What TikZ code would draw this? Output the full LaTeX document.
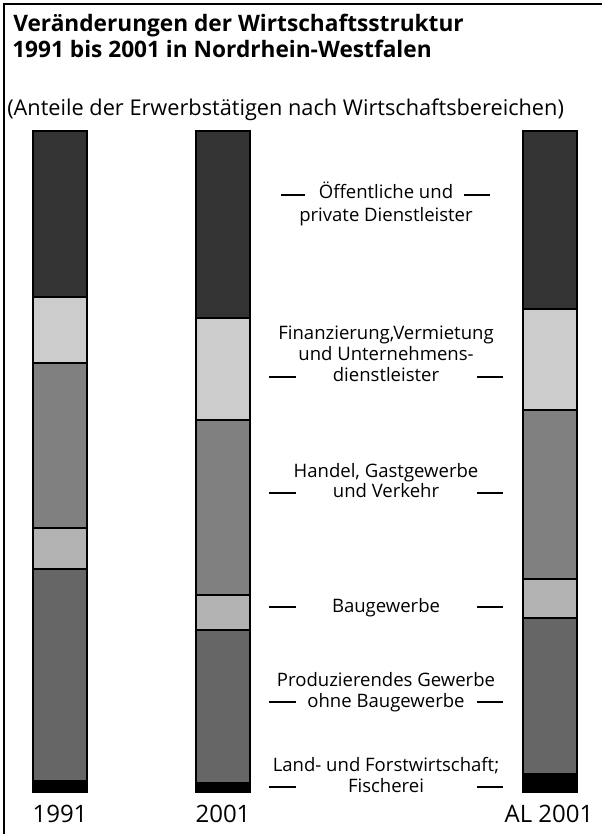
\documentclass[tikz,border=0pt]{standalone}
\usepackage{fontspec}
\setmainfont{Open Sans}
\begin{document}
\begin{tikzpicture}[x=0.75pt,y=-0.75pt,
  seg/.style={draw=black,line width=1.4pt},
  dashline/.style={draw=black,line width=1.4pt},
  lab/.style={anchor=base,inner sep=0pt,font=\fontsize{13.9pt}{16pt}\selectfont},
  yr/.style={anchor=base,inner sep=0pt,font=\fontsize{18pt}{21pt}\selectfont},
  ttl/.style={anchor=base west,inner sep=0pt,font=\bfseries\fontsize{17pt}{20pt}\selectfont},
  sub/.style={anchor=base west,inner sep=0pt,font=\fontsize{16.3pt}{19pt}\selectfont}]
\useasboundingbox (0,0) rectangle (602,834);
\definecolor{cDark}{HTML}{333333}
\definecolor{cLight}{HTML}{CCCCCC}
\definecolor{cMed}{HTML}{808080}
\definecolor{cBau}{HTML}{B3B3B3}
\definecolor{cProd}{HTML}{666666}
% frame (cut at right and bottom)
\draw[line width=1.5pt] (4,840) -- (4,4) -- (610,4);
% title
\node[ttl] (t1) at (13,32) {Veränderungen der Wirtschaftsstruktur};
\node[ttl] (t2) at (12,58) {1991 bis 2001 in Nordrhein-Westfalen};
\node[sub] (st) at (7,116) {(Anteile der Erwerbstätigen nach Wirtschaftsbereichen)};
% bar 1991
\fill[cDark]  (33,131) rectangle (87,297);
\fill[cLight] (33,297) rectangle (87,363);
\fill[cMed]   (33,363) rectangle (87,528);
\fill[cBau]   (33,528) rectangle (87,569);
\fill[cProd]  (33,569) rectangle (87,780);
\fill[black]  (33,780) rectangle (87,792);
\draw[seg] (33,131) rectangle (87,792);
\draw[seg] (33,297) -- (87,297) (33,363) -- (87,363) (33,528) -- (87,528) (33,569) -- (87,569);
% bar 2001
\fill[cDark]  (196,131) rectangle (250,318);
\fill[cLight] (196,318) rectangle (250,420);
\fill[cMed]   (196,420) rectangle (250,595);
\fill[cBau]   (196,595) rectangle (250,630);
\fill[cProd]  (196,630) rectangle (250,782);
\fill[black]  (196,782) rectangle (250,792);
\draw[seg] (196,131) rectangle (250,792);
\draw[seg] (196,318) -- (250,318) (196,420) -- (250,420) (196,595) -- (250,595) (196,630) -- (250,630);
% bar AL 2001
\fill[cDark]  (523,131) rectangle (577,309);
\fill[cLight] (523,309) rectangle (577,410);
\fill[cMed]   (523,410) rectangle (577,579);
\fill[cBau]   (523,579) rectangle (577,618);
\fill[cProd]  (523,618) rectangle (577,773);
\fill[black]  (523,773) rectangle (577,792);
\draw[seg] (523,131) rectangle (577,792);
\draw[seg] (523,309) -- (577,309) (523,410) -- (577,410) (523,579) -- (577,579) (523,618) -- (577,618);
% labels
\node[lab] (l1a) at (386,199) {Öffentliche und};
\node[lab] (l1b) at (386,221) {private Dienstleister};
\draw[dashline] (281,195) -- (305,195) (464,195) -- (490,195);
\node[lab] (l2a) at (386,339) {Finanzierung,Vermietung};
\node[lab] (l2b) at (386,360) {und Unternehmens-};
\node[lab] (l2c) at (386,381) {dienstleister};
\draw[dashline] (269,377) -- (296,377) (477,377) -- (503,377);
\node[lab] (l3a) at (386,477) {Handel, Gastgewerbe};
\node[lab] (l3b) at (386,497) {und Verkehr};
\draw[dashline] (269,493) -- (296,493) (477,493) -- (503,493);
\node[lab] (l4) at (386,612) {Baugewerbe};
\draw[dashline] (269,607) -- (296,607) (477,607) -- (503,607);
\node[lab] (l5a) at (386,686) {Produzierendes Gewerbe};
\node[lab] (l5b) at (386,707) {ohne Baugewerbe};
\draw[dashline] (269,702) -- (296,702) (477,702) -- (503,702);
\node[lab] (l6a) at (386,771) {Land- und Forstwirtschaft;};
\node[lab] (l6b) at (386,792) {Fischerei};
\draw[dashline] (269,787) -- (296,787) (477,787) -- (503,787);
% years
\node[yr] (y1) at (60,822) {1991};
\node[yr] (y2) at (223,822) {2001};
\node[yr] (y3) at (549,822) {AL 2001};
\end{tikzpicture}
\end{document}
